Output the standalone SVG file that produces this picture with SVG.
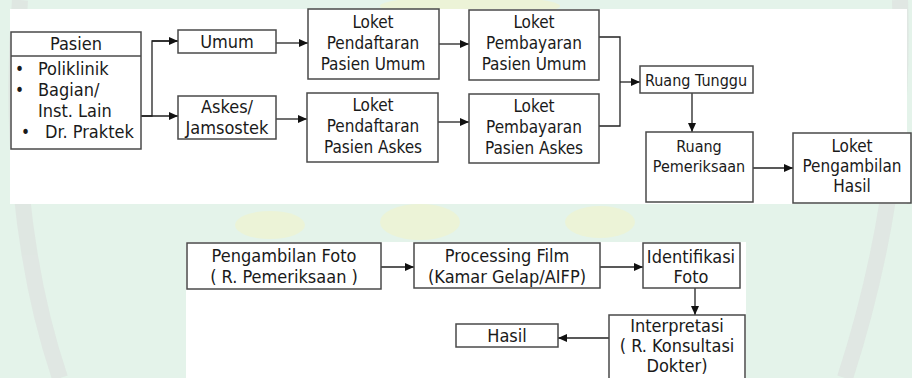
<svg xmlns="http://www.w3.org/2000/svg" width="912" height="378" viewBox="0 0 912 378">
<defs>
<marker id="arr" markerUnits="userSpaceOnUse" markerWidth="9" markerHeight="8" refX="9" refY="4" orient="auto">
<path d="M0,0 L9,4 L0,8 z" fill="#111"/>
</marker>
<style>
.box{fill:#fff;stroke:#4a4a4a;stroke-width:1.5}
.t{font-family:"DejaVu Sans Condensed","DejaVu Sans",sans-serif;font-stretch:condensed;font-size:17px;fill:#1a1a1a;text-anchor:middle}
.l{text-anchor:start}
.s{font-size:16px}
.b{font-size:18px}
.c{fill:none;stroke:#222;stroke-width:1.3}
.a{marker-end:url(#arr)}
</style>
</defs>
<rect x="0" y="0" width="912" height="378" fill="#e4f3ea"/>
<g id="watermark" opacity="0.5">
<path d="M20,0 C10,120 20,260 60,378" fill="none" stroke="#dcdcdc" stroke-width="16"/>
<path d="M900,0 C905,140 880,270 845,378" fill="none" stroke="#dcdcdc" stroke-width="16"/>
<ellipse cx="470" cy="6" rx="90" ry="10" fill="#f4f4c6"/>
<ellipse cx="270" cy="225" rx="35" ry="14" fill="#f4f4c6"/>
<ellipse cx="420" cy="222" rx="40" ry="18" fill="#f4f4c6"/>
<ellipse cx="600" cy="222" rx="35" ry="16" fill="#f4f4c6"/>
</g>
<rect x="10" y="9" width="897" height="195" fill="#fff"/>
<rect x="186" y="242" width="560" height="136" fill="#fff"/>
<g id="connectors">
<path class="c" d="M141,116 H152 V41 H178"/>
<path class="c a" d="M152,41 H178"/>
<path class="c a" d="M141,116 H178"/>
<path class="c a" d="M276,43 H308"/>
<path class="c a" d="M276,119 H307"/>
<path class="c a" d="M439,44 H469"/>
<path class="c a" d="M438,122 H469"/>
<path class="c" d="M599,37 H620 V126 H599"/>
<path class="c a" d="M620,82 H640"/>
<path class="c a" d="M692,93 V132"/>
<path class="c a" d="M753,168 H793"/>
<path class="c a" d="M381,267 H414"/>
<path class="c a" d="M600,267 H643"/>
<path class="c a" d="M695,288 V315"/>
<path class="c a" d="M609,338 H558"/>
</g>
<g id="pasien">
<rect class="box" x="11" y="32" width="130" height="117"/>
<line x1="11" y1="56" x2="141" y2="56" stroke="#4a4a4a" stroke-width="1.5"/>
<text class="t b" x="76" y="50">Pasien</text>
<text class="t l" x="15" y="75">•</text>
<text class="t l b" x="38" y="75">Poliklinik</text>
<text class="t l" x="15" y="96">•</text>
<text class="t l b" x="38" y="96">Bagian/</text>
<text class="t l b" x="38" y="117">Inst. Lain</text>
<text class="t l" x="21" y="138">•</text>
<text class="t l b" x="45" y="138">Dr. Praktek</text>
</g>
<g id="umum">
<rect class="box" x="178" y="30" width="98" height="23"/>
<text class="t b" x="227" y="48">Umum</text>
</g>
<g id="askes">
<rect class="box" x="178" y="96" width="98" height="43"/>
<text class="t b" x="227" y="113">Askes/</text>
<text class="t b" x="227" y="134">Jamsostek</text>
</g>
<g id="loket-pendaftaran-umum">
<rect class="box" x="308" y="9" width="131" height="70"/>
<text class="t" x="373" y="28">Loket</text>
<text class="t" x="373" y="49">Pendaftaran</text>
<text class="t" x="373" y="70">Pasien Umum</text>
</g>
<g id="loket-pembayaran-umum">
<rect class="box" x="469" y="10" width="130" height="70"/>
<text class="t" x="534" y="28">Loket</text>
<text class="t" x="534" y="49">Pembayaran</text>
<text class="t" x="534" y="70">Pasien Umum</text>
</g>
<g id="loket-pendaftaran-askes">
<rect class="box" x="307" y="93" width="131" height="69"/>
<text class="t" x="373" y="111">Loket</text>
<text class="t" x="373" y="132">Pendaftaran</text>
<text class="t" x="373" y="153">Pasien Askes</text>
</g>
<g id="loket-pembayaran-askes">
<rect class="box" x="469" y="94" width="130" height="69"/>
<text class="t" x="534" y="112">Loket</text>
<text class="t" x="534" y="133">Pembayaran</text>
<text class="t" x="534" y="154">Pasien Askes</text>
</g>
<g id="ruang-tunggu">
<rect class="box" x="640" y="66" width="113" height="27"/>
<text class="t s" x="696" y="86">Ruang Tunggu</text>
</g>
<g id="ruang-pemeriksaan">
<rect class="box" x="646" y="132" width="107" height="70"/>
<text class="t s" x="699" y="152">Ruang</text>
<text class="t s" x="699" y="172">Pemeriksaan</text>
</g>
<g id="loket-pengambilan-hasil">
<rect class="box" x="793" y="133" width="118" height="70"/>
<text class="t" x="852" y="152">Loket</text>
<text class="t" x="852" y="172">Pengambilan</text>
<text class="t" x="852" y="192">Hasil</text>
</g>
<g id="pengambilan-foto">
<rect class="box" x="187" y="243" width="194" height="46"/>
<text class="t b" x="284" y="262">Pengambilan Foto</text>
<text class="t b" x="284" y="283">( R. Pemeriksaan )</text>
</g>
<g id="processing-film">
<rect class="box" x="414" y="243" width="186" height="45"/>
<text class="t b" x="507" y="262">Processing Film</text>
<text class="t b" x="507" y="283">(Kamar Gelap/AIFP)</text>
</g>
<g id="identifikasi-foto">
<rect class="box" x="643" y="243" width="97" height="45"/>
<text class="t b" x="691" y="263">Identifikasi</text>
<text class="t b" x="691" y="283">Foto</text>
</g>
<g id="interpretasi">
<rect class="box" x="609" y="315" width="136" height="70"/>
<text class="t b" x="677" y="332">Interpretasi</text>
<text class="t b" x="677" y="352">( R. Konsultasi</text>
<text class="t b" x="677" y="372">Dokter)</text>
</g>
<g id="hasil">
<rect class="box" x="456" y="324" width="102" height="23"/>
<text class="t b" x="507" y="342">Hasil</text>
</g>
</svg>
